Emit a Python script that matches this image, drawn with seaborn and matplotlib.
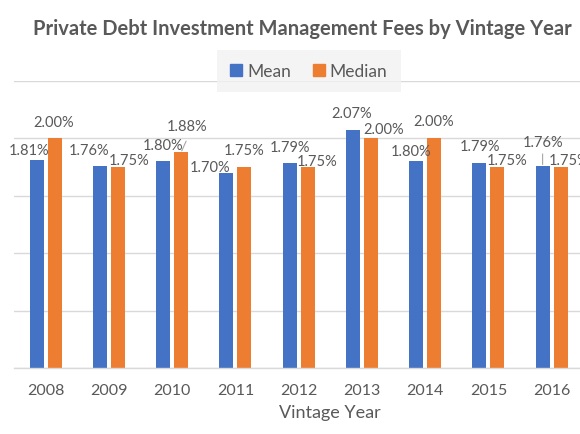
import matplotlib
matplotlib.use("Agg")
import matplotlib.pyplot as plt
import matplotlib.patches as mpatches
import seaborn as sns
import pandas as pd

# Data (fees in %)
years = ["2008", "2009", "2010", "2011", "2012", "2013", "2014", "2015", "2016"]
mean_fee = [1.81, 1.76, 1.80, 1.70, 1.79, 2.07, 1.80, 1.79, 1.76]
median_fee = [2.00, 1.75, 1.88, 1.75, 1.75, 2.00, 2.00, 1.75, 1.75]
series = ["Mean", "Median"]

# Hand-placed label offsets (pixels, right / up) like the Excel original
mean_offsets = [(-8, 10), (-11, 16), (0, 16), (-16, 6), (0, 16), (-1, 17), (-5, 10), (1, 17), (0, 24)]
median_offsets = [(-1, 16), (11, 7), (6, 26), (0, 17), (9, 6), (13, 9), (0, 17), (10, 7), (8, 7)]
# leader lines: (series, year index, line end offset)
leaders = [("Median", 2, (5, 11)), ("Mean", 8, (0, 12))]

df = pd.DataFrame({"year": years, "Mean": mean_fee, "Median": median_fee})
df = df.melt(id_vars="year", var_name="stat", value_name="fee")

BLUE = "#4472C4"
ORANGE = "#ED7D31"
GREY = "#595959"
GRID = "#D9D9D9"

sns.set_theme(style="white")
plt.rcParams["font.family"] = ["Lato", "DejaVu Sans"]

fig = plt.figure(figsize=(5.8, 4.35), dpi=100)
step = 63.25 / 580
ax = fig.add_axes([14 / 580, 1 - 369 / 435, 10 * step, 287 / 435])

sns.barplot(
    data=df,
    x="year",
    y="fee",
    hue="stat",
    hue_order=series,
    palette=[BLUE, ORANGE],
    saturation=1,
    width=0.57,
    gap=0.22,
    linewidth=0,
    legend=False,
    ax=ax,
)

ax.set_ylim(0, 2.5)
ax.set_xlim(-0.5, 9.5)
ax.set_yticks([0, 0.5, 1.0, 1.5, 2.0, 2.5])
ax.set_yticklabels([])
ax.yaxis.grid(True, color=GRID, linewidth=1)
ax.set_axisbelow(True)
for s in ["top", "right", "left"]:
    ax.spines[s].set_visible(False)
ax.spines["bottom"].set_color(GRID)
ax.spines["bottom"].set_linewidth(1)
ax.tick_params(axis="y", length=0)
ax.tick_params(axis="x", length=0, pad=11, labelsize=11.5, labelcolor=GREY)
ax.set_ylabel("")
ax.set_xlabel("Vintage Year", fontsize=13, color=GREY, labelpad=5)

offsets = {"Mean": mean_offsets, "Median": median_offsets}
values = {"Mean": mean_fee, "Median": median_fee}
bars = {}
for name, cont in zip(series, ax.containers):
    bars[name] = list(cont)
    for bar, val, (dx, dy) in zip(cont, values[name], offsets[name]):
        x = bar.get_x() + bar.get_width() / 2
        ax.annotate(f"{val:.2f}%", xy=(x, val), xytext=(dx, dy),
                    textcoords="offset pixels", ha="center", va="center",
                    fontsize=10.5, color=GREY)

for name, i, (dx, dy) in leaders:
    bar = bars[name][i]
    x = bar.get_x() + bar.get_width() / 2
    ax.annotate("", xy=(x, values[name][i]), xytext=(dx, dy),
                textcoords="offset pixels",
                arrowprops=dict(arrowstyle="-", color="#A6A6A6", lw=0.8,
                                shrinkA=0, shrinkB=1))

fig.text(302 / 580, 1 - 35 / 435, "Private Debt Investment Management Fees by Vintage Year",
         ha="center", va="baseline", fontsize=14.5, fontweight="bold", color=GREY)

handles = [mpatches.Patch(color=c, label=s) for c, s in zip([BLUE, ORANGE], series)]
leg = fig.legend(handles=handles, loc="center", bbox_to_anchor=(309 / 580, 1 - 72 / 435),
                 ncol=2, frameon=True, fancybox=False, fontsize=12.5,
                 handlelength=0.65, handleheight=0.65, handletextpad=0.3,
                 columnspacing=1.3, borderpad=0.75, labelcolor=GREY)
leg.get_frame().set_facecolor("#F2F2F2")
leg.get_frame().set_edgecolor("none")

fig.savefig("out.png", dpi=100)
